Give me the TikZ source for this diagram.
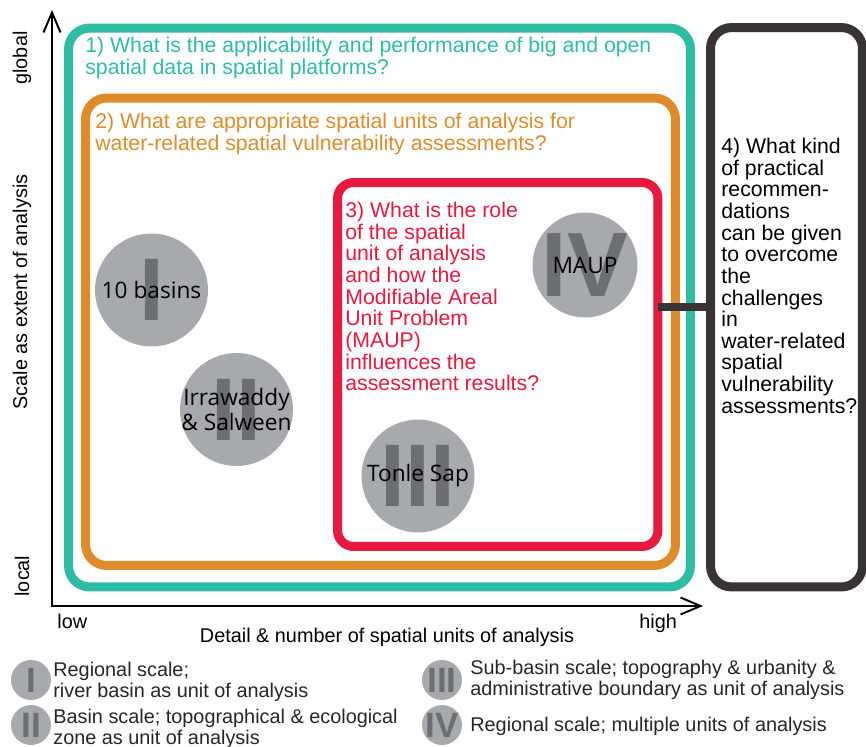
\documentclass[tikz,border=0pt]{standalone}
\usepackage{fontspec}
\setmainfont{Liberation Sans}
\newfontfamily\zonefont{Open Sans}
\usepackage{tikz}
\usetikzlibrary{arrows.meta, positioning}

\definecolor{qteal}{HTML}{2EBDA4}
\definecolor{qorange}{HTML}{DE8B2B}
\definecolor{qred}{HTML}{E8193E}
\definecolor{qdark}{HTML}{383335}
\definecolor{zonegray}{HTML}{A7A9AC}
\definecolor{numgray}{HTML}{6D6E71}

\begin{document}
\begin{tikzpicture}[x=0.02cm, y=-0.02cm,
    qbox/.style={draw=#1, line width=0.18cm, rounded corners=0.42cm, inner sep=0},
    qtext/.style={text=#1, font=\fontsize{12.1}{12.3}\selectfont, align=left, anchor=north west, inner sep=0},
    zone/.style={circle, fill=zonegray, minimum size=#1, inner sep=0},
    numeral/.style={text=numgray, font=\fontsize{#1}{#1}\selectfont\bfseries, inner sep=0},
    zonelabel/.style={font=\zonefont\fontsize{12.9}{14.2}\selectfont, align=center, inner sep=0},
    axislabel/.style={font=\fontsize{11.3}{12}\selectfont, inner sep=0},
    legendtext/.style={text=black!85, font=\fontsize{11.3}{12}\selectfont, align=left, anchor=north west, inner sep=0},
    axis/.style={line width=1.1pt, <->, >={Straight Barb[length=0.4cm, width=0.34cm]}},
    link/.style={draw=qdark, line width=0.16cm, shorten <=-0.09cm}
]
    \useasboundingbox (0,0) rectangle (866,747);

    % axes
    \coordinate (ytip) at (52,10);
    \coordinate (o) at (52,606);
    \coordinate (xtip) at (703,606);
    \draw[axis] (ytip) -- (o) -- (xtip);

    \node[axislabel, rotate=90] (ylab) at (22,292) {Scale as extent of analysis};
    \node[axislabel, rotate=90] (glob) at (22,58) {global};
    \node[axislabel, rotate=90] (loc) at (22,576) {local};
    \node[axislabel, anchor=base west] (lo) at (57,628) {low};
    \node[axislabel, anchor=base west] (hi) at (639,628) {high};
    \node[axislabel, anchor=base] (xlab) at (387,642) {Detail \& number of spatial units of analysis};

    % question boxes
    \node[qbox=qteal, minimum width=12.44cm, minimum height=11.18cm] (q1box) at (379.5,307.5) {};
    \node[qbox=qorange, minimum width=11.8cm, minimum height=9.35cm] (q2box) at (380.5,331.75) {};
    \node[qbox=qred, rounded corners=0.32cm, minimum width=6.41cm, minimum height=7.28cm] (q3box) at (497.75,364.5) {};
    \node[qbox=qdark, minimum width=3.04cm, minimum height=11.19cm] (q4box) at (786.5,307.25) {};

    \node[qtext=qteal] (q1) at (85,37) {1) What is the applicability and performance of big and open\\spatial data in spatial platforms?};
    \node[qtext=qorange] (q2) at (95,113) {2) What are appropriate spatial units of analysis for\\water-related spatial vulnerability assessments?};
    \node[qtext=qred] (q3) at (345,202) {3) What is the role\\of the spatial\\unit of analysis\\and how the\\Modifiable Areal\\Unit Problem\\(MAUP)\\influences the\\assessment results?};
    \node[qtext=black] (q4) at (721,138) {4) What kind\\of practical\\recommen-\\dations\\can be given\\to overcome\\the\\challenges\\in\\water-related\\spatial\\vulnerability\\assessments?};

    % case studies
    \node[zone=2.26cm] (z1) at (151.5,290) {};
    \node[numeral=50.6] (n1) at (z1) {I};
    \node[zonelabel] (l1) at (z1) {10 basins};

    \node[zone=2.26cm] (z2) at (236.5,409.5) {};
    \node[numeral=50.6] (n2) at (z2) {II};
    \node[zonelabel] (l2) at (z2) {Irrawaddy\\\& Salween};

    \node[zone=2.26cm] (z3) at (418,476) {};
    \node[numeral=50.6] (n3) at (z3) {III};
    \node[zonelabel] (l3) at (z3) {Tonle Sap};

    \node[zone=2.1cm] (z4) at (585,265) {};
    \node[numeral=52] (n4) at (z4) {IV};
    \node[zonelabel] (l4) at (z4) {MAUP};

    % legend
    \node[zone=0.8cm] (k1) at (31,680) {};
    \node[numeral=20] (m1) at (k1) {I};
    \node[legendtext] (t1) at (53,661.5) {Regional scale;\\river basin as unit of analysis};

    \node[zone=0.8cm] (k2) at (31,725) {};
    \node[numeral=20] (m2) at (k2) {II};
    \node[legendtext] (t2) at (53,708.5) {Basin scale; topographical \& ecological\\zone as unit of analysis};

    \node[zone=0.8cm] (k3) at (442,680) {};
    \node[numeral=20] (m3) at (k3) {III};
    \node[legendtext] (t3) at (470,659.5) {Sub-basin scale; topography \& urbanity \&\\administrative boundary as unit of analysis};

    \node[zone=0.8cm] (k4) at (442,725) {};
    \node[numeral=20] (m4) at (k4) {IV};
    \node[legendtext] (t4) at (470,716.5) {Regional scale; multiple units of analysis};

    % link to question 4
    \coordinate (lk) at (0,307);
    \draw[link] (q3box.east |- lk) -- (q4box.west |- lk);
\end{tikzpicture}
\end{document}
